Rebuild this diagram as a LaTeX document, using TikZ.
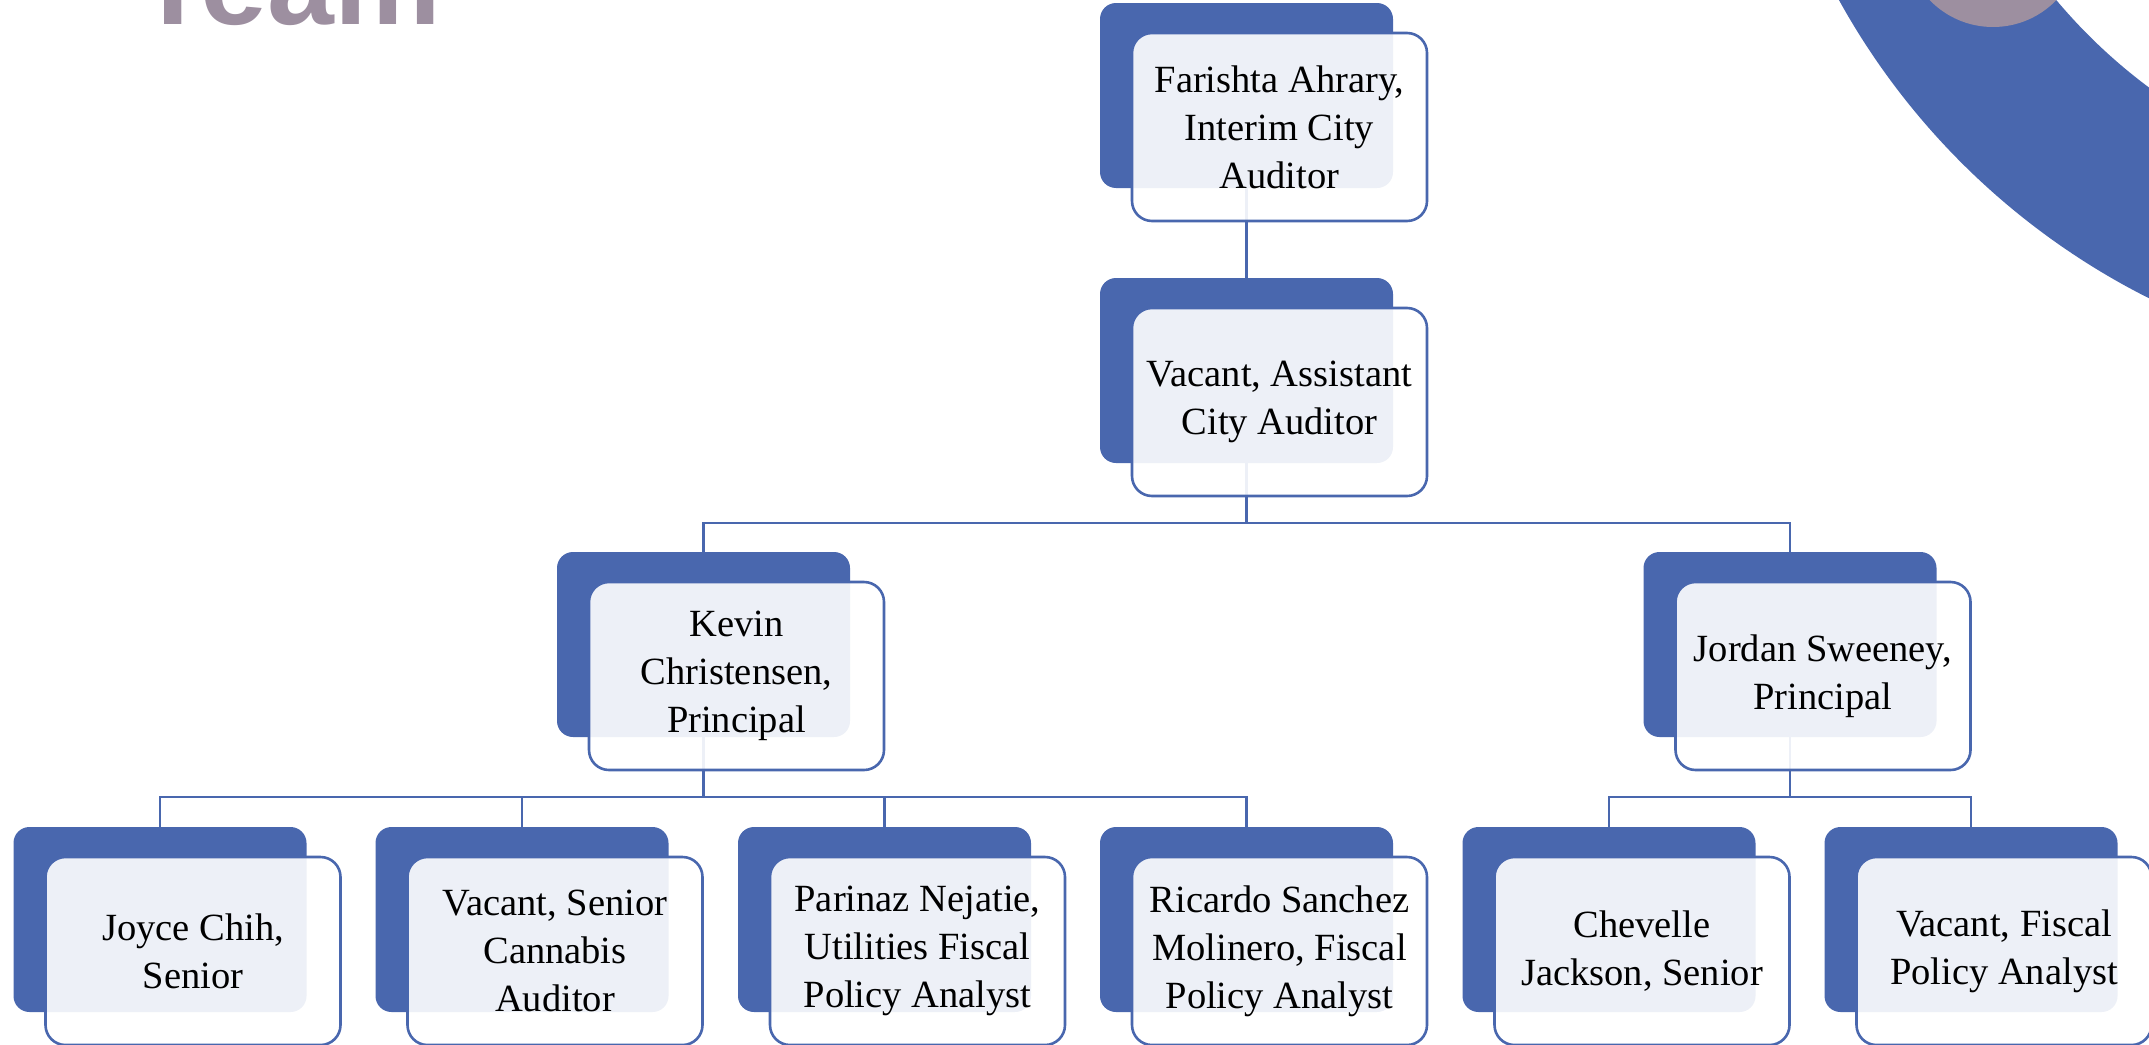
\documentclass[tikz,border=0pt]{standalone}
\usepackage{fontspec}
\setmainfont{Liberation Serif}
\setsansfont{Liberation Sans}
\definecolor{orgblue}{HTML}{4967AE}
\definecolor{mauve}{HTML}{9D8FA0}
\tikzset{
  backbox/.style={fill=orgblue, rounded corners=16pt, minimum width=293pt, minimum height=185pt, inner sep=0pt, outer sep=0pt},
  frontbox/.style={draw=orgblue, line width=2.6pt, fill=white, fill opacity=0.9, text opacity=1, rounded corners=20pt, minimum width=295pt, minimum height=188pt, inner sep=0pt, outer sep=0pt, align=center, font=\fontsize{38.5}{48}\selectfont, text=black},
  conn/.style={draw=orgblue, line width=2.6pt},
}
\begin{document}
\begin{tikzpicture}[x=1pt,y=-1pt]
\useasboundingbox (0,0) rectangle (2149,1044);
\clip (0,0) rectangle (2149,1044);
% decoration
\fill[orgblue, even odd rule] (2474,-350) circle[radius=725pt] (2474,-350) circle[radius=545pt];
\fill[mauve] (1993,-61) circle[radius=88pt];
\node[anchor=base west, inner sep=0pt, font=\sffamily\bfseries\fontsize{120}{120}\selectfont, text=mauve] (title) at (136,24) {Team};

% back boxes
\node[backbox] (b0) at (1246.5,95.5) {};
\node[backbox] (b1) at (1246.5,370.5) {};
\node[backbox] (b2) at (703.5,644.5) {};
\node[backbox] (b3) at (1790,644.5) {};
\node[backbox] (c1) at (160,919.5) {};
\node[backbox] (c2) at (522,919.5) {};
\node[backbox] (c3) at (884.5,919.5) {};
\node[backbox] (c4) at (1246.5,919.5) {};
\node[backbox] (c5) at (1609,919.5) {};
\node[backbox] (c6) at (1971,919.5) {};

% connectors
\coordinate (j1) at (1246.5,523);
\coordinate (j2) at (703.5,797);
\coordinate (j3) at (1790,797);
\draw[conn] (b0.south) -- (b1.north);
\draw[conn] (b1.south) -- (j1);
\draw[conn] (b2.north) |- (j1) -| (b3.north);
\draw[conn] (b2.south) -- (j2);
\draw[conn] (c1.north) |- (j2) -| (c4.north);
\draw[conn] (c2.north) -- (c2.north |- j2);
\draw[conn] (c3.north) -- (c3.north |- j2);
\draw[conn] (b3.south) -- (j3);
\draw[conn] (c5.north) |- (j3) -| (c6.north);

% front boxes with text
\node[frontbox] (f0) at (1279.5,127) {Farishta Ahrary,\\Interim City\\Auditor};
\node[frontbox] (f1) at (1279.5,402) {Vacant, Assistant\\City Auditor};
\node[frontbox] (f2) at (736.5,676) {Kevin\\Christensen,\\Principal};
\node[frontbox] (f3) at (1823,676) {Jordan Sweeney,\\Principal};
\node[frontbox] (g1) at (193,951) {Joyce Chih,\\Senior};
\node[frontbox] (g2) at (555,951) {Vacant, Senior\\Cannabis\\Auditor};
\node[frontbox] (g3) at (917.5,951) {Parinaz Nejatie,\\Utilities Fiscal\\Policy Analyst};
\node[frontbox] (g4) at (1279.5,951) {Ricardo Sanchez\\Molinero, Fiscal\\Policy Analyst};
\node[frontbox] (g5) at (1642,951) {Chevelle\\Jackson, Senior};
\node[frontbox] (g6) at (2004,951) {Vacant, Fiscal\\Policy Analyst};
\end{tikzpicture}
\end{document}
